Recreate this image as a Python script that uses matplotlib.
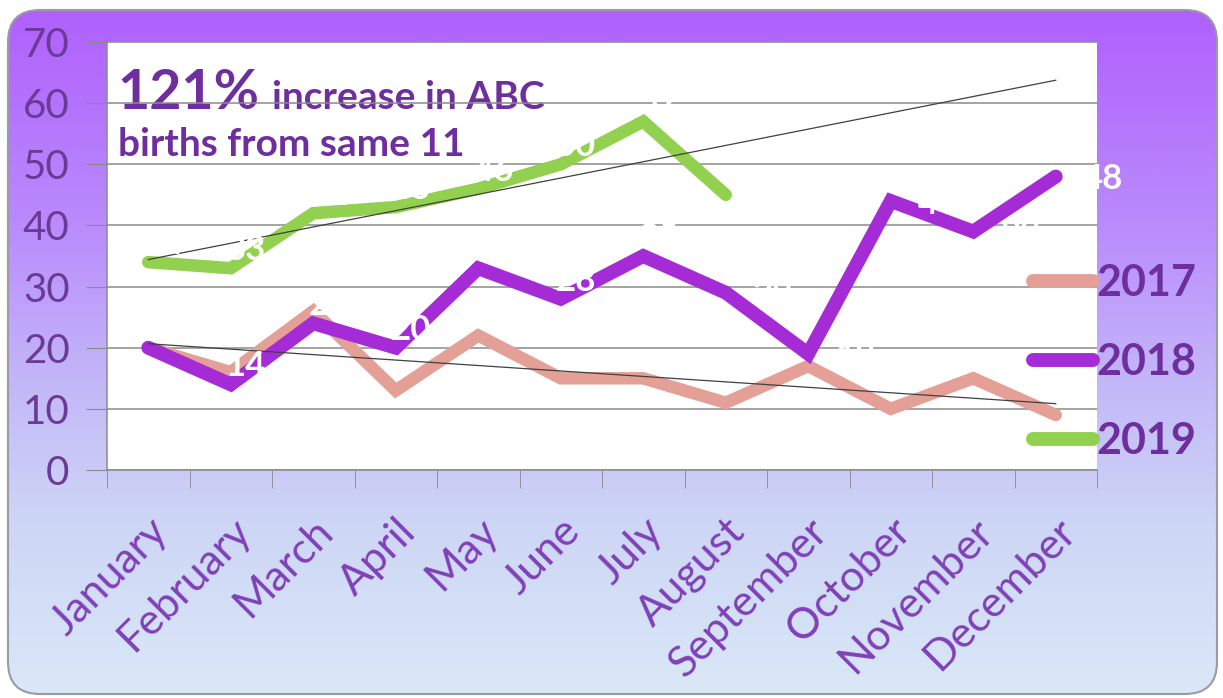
import numpy as np
import matplotlib
matplotlib.use("Agg")
import matplotlib.pyplot as plt
from matplotlib.patches import FancyBboxPatch
from matplotlib.colors import LinearSegmentedColormap

### DATA

months = ["January", "February", "March", "April", "May", "June",
          "July", "August", "September", "October", "November", "December"]
births_2017 = [20, 16, 26, 13, 22, 15, 15, 11, 17, 10, 15, 9]
births_2018 = [20, 14, 24, 20, 33, 28, 35, 29, 19, 44, 39, 48]
births_2019 = [34, 33, 42, 43, 46, 50, 57, 45]
series_names = ["2017", "2018", "2019"]
yticks = [0, 10, 20, 30, 40, 50, 60, 70]

### STYLE

plt.rcParams['font.family'] = ['Lato', 'DejaVu Sans']
text_purple = '#6E2E9E'
label_purple = '#8040B8'
colors = {'2017': '#E4A096', '2018': '#A52BD6', '2019': '#92D050'}
widths = {'2017': 9, '2018': 10, '2019': 9}

fig = plt.figure(figsize=(12.23, 6.98), dpi=100)
fig.patch.set_facecolor('white')

# rounded gradient background
bg = fig.add_axes([0, 0, 1, 1], zorder=-5)
bg.set_xlim(0, 1223)
bg.set_ylim(0, 698)
bg.axis('off')
grad_cmap = LinearSegmentedColormap.from_list('bg', [
    (0.00, (218/255, 232/255, 248/255)),
    (0.25, (205/255, 214/255, 245/255)),
    (0.45, (195/255, 184/255, 248/255)),
    (0.68, (186/255, 140/255, 252/255)),
    (1.00, (176/255, 96/255, 252/255)),
])
grad = np.linspace(0, 1, 256).reshape(-1, 1)
box = FancyBboxPatch((8, 4), 1209, 684, boxstyle="round,pad=0,rounding_size=32",
                     facecolor='none', edgecolor='#9A9AA8', linewidth=1.5, zorder=2)
bg.add_patch(box)
img = bg.imshow(grad, cmap=grad_cmap, aspect='auto', origin='lower',
                extent=(8, 1217, 4, 688), zorder=1)
img.set_clip_path(box)

### MAIN CHART

ax = fig.add_axes([107/1223, 1 - 470/698, 990/1223, 428/698])
ax.set_facecolor('white')

x_all = np.arange(len(months))
data = {'2017': births_2017, '2018': births_2018, '2019': births_2019}

for name in series_names:
    vals = data[name]
    ax.plot(x_all[:len(vals)], vals, color=colors[name], lw=widths[name],
            solid_capstyle='round', solid_joinstyle='miter', label=name, zorder=3)

# linear trendlines (2017 over the year, 2019 projected to December)
for name in ['2017', '2019']:
    vals = data[name]
    xs = x_all[:len(vals)]
    slope, inter = np.polyfit(xs, vals, 1)
    ax.plot(x_all, slope * x_all + inter, color='#404040', lw=0.9, zorder=4)

# white data labels for 2018 and 2019
for name in ['2018', '2019']:
    for i, v in enumerate(data[name]):
        if i >= 7:
            off = (34, -2)
        else:
            off = (11, 13)
        ax.annotate(str(v), (i, v), xytext=off, textcoords='offset points',
                    ha='center', va='center', color='white', fontsize=25,
                    fontweight='bold', zorder=6, annotation_clip=False)

ax.set_xlim(-0.5, len(months) - 0.5)
ax.set_ylim(0, 70)
ax.set_yticks(yticks)
ax.set_yticklabels([str(t) for t in yticks], fontsize=29, color='#6A3A96')
ax.set_xticks(x_all)
ax.set_xticklabels(months, rotation=45, ha='right', rotation_mode='anchor',
                   fontsize=31, color=label_purple)
ax.set_xticks(np.arange(-0.5, len(months), 1), minor=True)
ax.tick_params(axis='x', which='major', length=0, pad=30)
ax.tick_params(axis='x', which='minor', length=13, color='#8A8A8A', direction='out')
ax.tick_params(axis='y', length=15, color='#8A8A8A', pad=12)

ax.grid(axis='y', color='#8A8A8A', linewidth=1.1, zorder=2)
ax.set_axisbelow(False)
for side in ['top', 'right']:
    ax.spines[side].set_visible(False)
for side in ['left', 'bottom']:
    ax.spines[side].set_color('#8A8A8A')
    ax.spines[side].set_linewidth(1.1)

# headline text inside the chart
ax.text(0.011, 59, "121%", transform=ax.get_yaxis_transform(), fontsize=40,
        fontweight='bold', color=text_purple, va='baseline', zorder=1)
ax.text(0.167, 59, "increase in ABC", transform=ax.get_yaxis_transform(), fontsize=28,
        fontweight='bold', color=text_purple, va='baseline', zorder=1)
ax.text(0.011, 51.3, "births from same 11", transform=ax.get_yaxis_transform(),
        fontsize=28, fontweight='bold', color=text_purple, va='baseline', zorder=1)

# legend on the right
leg = fig.legend(loc='center left', bbox_to_anchor=(1033/1223, 1 - 362/698),
                 frameon=False, prop={'weight': 'bold', 'size': 31},
                 handlelength=1.4, handletextpad=0.08, labelspacing=0.9,
                 borderpad=0, borderaxespad=0)
for t in leg.get_texts():
    t.set_color(text_purple)
for h in leg.legend_handles:
    h.set_linewidth(10)
    h.set_solid_capstyle('round')

plt.savefig("out.png", dpi=100)
